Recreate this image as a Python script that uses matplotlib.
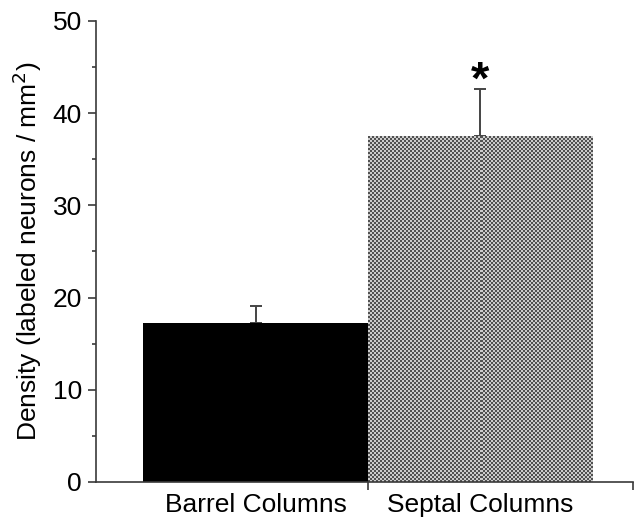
import numpy as np
import matplotlib
matplotlib.use("Agg")
from matplotlib import pyplot as plt
from matplotlib.ticker import MultipleLocator

plt.rcParams["font.family"] = ["Liberation Sans", "DejaVu Sans"]

groups = ["Barrel Columns", "Septal Columns"]
density = [17.2, 37.5]
sem = [1.9, 5.1]
marks = ["", "*"]

axis_col = "#3a3a3a"

fig = plt.figure(figsize=(6.37, 5.18), dpi=100)
ax = fig.add_axes([0.1507, 0.0695, 0.9937 - 0.1507, 0.9595 - 0.0695])
ax.set_xlim(-0.71, 1.68)
ax.set_ylim(0, 50)

x = np.arange(len(groups))
bars = ax.bar(x, density, width=1.0, color=["black", "none"], linewidth=0, zorder=2)
ax.errorbar(x, density, yerr=[np.zeros(len(sem)), sem], fmt="none",
            ecolor="#444444", elinewidth=1.4, capsize=4.5, capthick=1.4, zorder=1)

# checker texture for the second bar, about 2 px per cell
b = bars[1]
x0, y0 = b.get_x(), b.get_y()
w, h = b.get_width(), b.get_height()
p0 = ax.transData.transform((x0, y0))
p1 = ax.transData.transform((x0 + w, y0 + h))
nx = max(int(round(abs(p1[0] - p0[0]) / 2)), 1)
ny = max(int(round(abs(p1[1] - p0[1]) / 2)), 1)
ii, jj = np.indices((ny, nx))
tex = np.where((ii + jj) % 2 == 0, 0.32, 0.8)
im = ax.imshow(tex, cmap="gray", vmin=0, vmax=1, interpolation="nearest",
               extent=[x0, x0 + w, y0, y0 + h], aspect="auto", zorder=2)
im.set_clip_path(b)
ax.set_xlim(-0.71, 1.68)
ax.set_ylim(0, 50)

for xi, d, s, m in zip(x, density, sem, marks):
    if m:
        ax.text(xi, d + s - 0.5, m, ha="center", va="baseline",
                fontsize=34, fontweight="bold")

ax.set_xticks(x)
ax.set_xticklabels(groups, fontsize=19)
ax.tick_params(axis="x", which="major", length=0, pad=8)
ax.set_xticks([0.5, 1.68], minor=True)
ax.tick_params(axis="x", which="minor", length=6, width=1.2, color=axis_col)

ax.yaxis.set_major_locator(MultipleLocator(10))
ax.yaxis.set_minor_locator(MultipleLocator(5))
ax.tick_params(axis="y", which="major", length=6, width=1.2, color=axis_col,
               labelsize=19, pad=4)
ax.tick_params(axis="y", which="minor", length=3, width=1.2, color=axis_col)

ax.set_ylabel("Density (labeled neurons / mm$^2$)", fontsize=19, labelpad=6)

for side in ["top", "right"]:
    ax.spines[side].set_visible(False)
for side in ["left", "bottom"]:
    ax.spines[side].set_color(axis_col)
    ax.spines[side].set_linewidth(1.2)

fig.savefig("out.png", dpi=100)
